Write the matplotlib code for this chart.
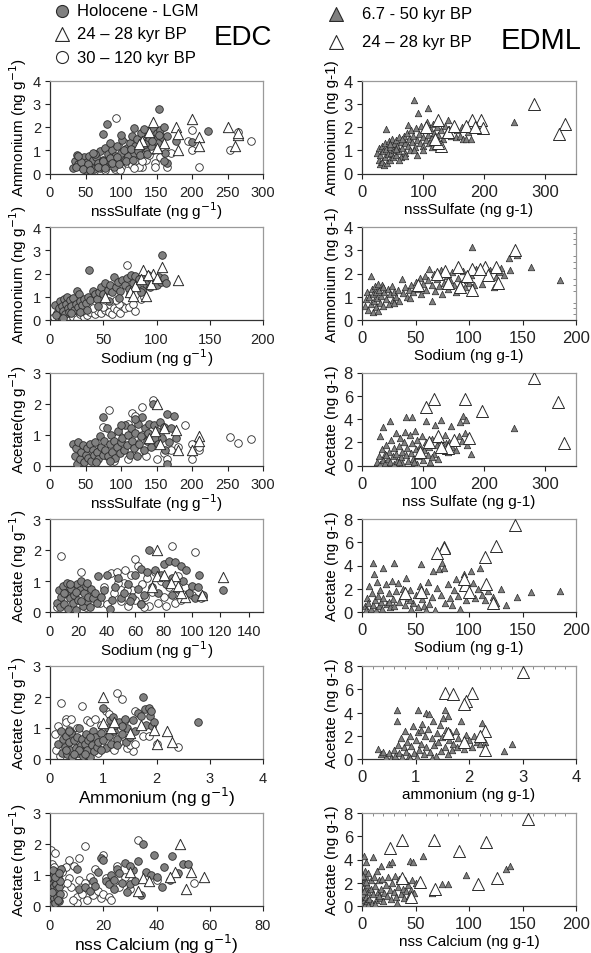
import numpy as np
import matplotlib
matplotlib.use("Agg")
import matplotlib.pyplot as plt
from matplotlib.ticker import MultipleLocator, AutoMinorLocator

plt.rcParams['font.family'] = ['Liberation Sans', 'DejaVu Sans']

# ---------------- EDC data (x, y) ----------------
edc1_hol = [(32,0.25),(35,0.55),(38,0.8),(40,0.4),(42,0.65),(45,0.3),(48,0.7),(50,0.15),(52,0.5),(55,0.75),(58,0.35),(60,0.6),(62,0.2),(65,0.7),(68,0.45),(70,0.95),(72,0.3),(75,0.6),(78,1.1),(80,0.4),(82,0.85),(85,0.55),(88,1.0),(90,0.3),(92,0.75),(95,1.2),(98,0.5),(100,0.9),(102,1.45),(105,0.6),(108,1.1),(110,0.75),(112,1.3),(115,1.6),(118,0.9),(120,1.2),(122,1.5),(125,1.0),(128,1.75),(130,1.35),(132,1.9),(135,1.1),(138,1.6),(140,1.45),(142,1.2),(145,1.95),(148,1.5),(150,1.75),(152,1.3),(155,1.85),(158,1.55),(160,2.0),(162,0.9),(165,1.6),(36,0.3),(44,0.5),(54,0.4),(64,0.85),(74,0.55),(84,0.65),(94,0.7),(104,1.0),(114,1.05),(124,0.95),(134,1.25),(144,1.4),(154,1.65),(47,0.2),(57,0.15),(67,0.3),(77,0.25),(87,0.45),(97,0.4),(107,0.55),(117,0.6),(127,0.8),(137,0.85),(75,1.7),(80,2.12),(153,2.78),(222,1.82),(200,1.35),(178,1.4),(165,0.45),(160,0.55),(40,0.75),(60,0.9),(85,1.3),(100,1.65),(118,1.95)]
edc1_old = [(93,2.38),(200,1.85),(265,1.8),(283,1.4),(253,1.0),(200,1.0),(210,0.3),(148,0.45),(148,0.3),(165,0.3),(130,0.3),(195,1.4),(55,0.2),(62,0.1),(70,0.25),(78,0.15),(85,0.35),(92,0.2),(100,0.3),(108,0.45),(115,0.35),(120,0.55),(125,0.3),(135,0.6),(140,0.8),(110,0.7),(105,1.3),(90,0.5),(75,0.5),(65,0.45),(160,1.1),(155,0.7),(170,0.9),(145,1.0),(130,0.55),(98,0.15),(118,0.25)]
edc1_tri = [(145,2.2),(200,2.35),(177,2.0),(250,2.0),(265,1.65),(210,1.55),(180,1.7),(140,1.8),(160,1.3),(180,1.0),(210,1.2),(260,1.2),(150,1.1),(130,1.4),(125,1.25),(265,1.75)]

edc2_hol = [(5,0.65),(7,0.3),(8,0.5),(9,0.8),(10,0.15),(11,0.6),(12,0.4),(13,0.9),(14,0.25),(15,0.7),(16,1.0),(17,0.5),(18,0.35),(19,0.85),(20,0.6),(22,0.95),(23,0.45),(24,0.7),(25,1.25),(26,0.55),(27,1.1),(28,0.8),(30,0.65),(32,0.9),(34,0.75),(36,1.0),(37,2.15),(38,0.85),(40,1.25),(42,1.1),(44,0.9),(46,1.2),(48,1.4),(50,1.1),(52,1.6),(54,1.3),(56,1.5),(58,1.2),(60,1.85),(62,1.4),(64,1.65),(66,1.25),(68,1.7),(70,1.5),(72,1.8),(74,1.35),(76,1.95),(78,1.6),(80,1.9),(82,1.45),(84,1.75),(86,1.3),(88,1.85),(90,1.55),(92,1.95),(94,1.4),(96,1.7),(98,1.6),(100,1.5),(102,1.85),(104,1.65),(105,2.78),(107,1.8),(109,1.6),(6,0.2),(12,0.1),(20,0.3),(28,0.35),(35,0.45),(45,0.6),(55,0.8),(65,0.95),(75,1.1),(85,1.2)]
edc2_old = [(72,2.38),(4,0.15),(8,0.05),(12,0.2),(15,0.1),(18,0.3),(22,0.15),(25,0.05),(28,0.25),(32,0.15),(35,0.2),(38,0.35),(42,0.25),(45,0.4),(48,0.3),(52,0.45),(55,0.35),(58,0.25),(60,0.5),(63,0.45),(66,0.3),(68,0.6),(70,0.5),(74,0.55),(80,0.4),(78,0.7),(65,0.7),(50,0.55),(40,0.5),(30,0.4),(85,0.9),(88,1.0),(62,0.85)]
edc2_tri = [(87,2.15),(105,2.3),(97,2.0),(120,1.7),(80,1.45),(90,1.05),(75,1.2),(52,1.0),(95,1.55),(100,1.8),(85,1.75),(92,1.95),(78,1.05)]

edc3_hol = [(32,0.7),(35,0.3),(37,0.55),(38,0.05),(40,0.75),(42,0.2),(44,0.45),(46,0.65),(48,0.1),(50,0.35),(52,0.55),(54,0.25),(56,0.7),(58,0.15),(60,0.5),(62,0.35),(64,0.75),(66,0.45),(68,0.2),(70,0.95),(72,0.6),(74,0.35),(75,1.55),(76,0.8),(78,0.5),(80,1.2),(82,0.3),(84,0.7),(86,1.0),(88,0.45),(90,0.8),(92,0.25),(94,0.6),(96,1.1),(98,0.4),(100,0.75),(102,0.9),(104,0.5),(106,1.3),(108,0.65),(110,1.0),(112,0.35),(114,1.2),(116,0.8),(118,0.55),(120,1.05),(122,0.3),(124,1.35),(126,0.7),(128,0.95),(130,1.55),(132,0.5),(134,1.2),(136,0.8),(138,1.05),(140,1.35),(142,0.6),(145,2.0),(146,1.3),(148,0.9),(150,1.1),(152,0.7),(155,1.4),(158,0.9),(160,1.25),(162,0.5),(165,1.65),(165,0.05),(168,0.75),(170,1.2),(175,1.6),(178,0.9),(120,1.5),(100,1.3),(85,0.15),(65,0.1)]
edc3_old = [(145,2.1),(83,1.8),(130,1.9),(115,1.7),(120,1.6),(190,1.3),(253,0.92),(265,0.73),(283,0.87),(200,0.7),(210,0.5),(200,0.2),(150,0.2),(110,0.2),(90,0.15),(100,0.6),(105,1.1),(110,1.35),(125,0.45),(135,0.3),(140,0.85),(155,1.0),(160,0.4),(170,0.5),(180,0.6),(95,0.9),(80,0.3),(70,0.4),(60,0.6),(75,1.25),(130,1.0),(118,0.9),(210,0.6),(165,0.2)]
edc3_tri = [(150,2.0),(178,1.15),(210,0.95),(210,0.8),(200,0.5),(180,0.5),(148,1.1),(140,0.9),(155,0.7),(160,1.2)]

edc4_hol = [(5,0.3),(6,0.7),(7,0.15),(8,0.5),(9,0.85),(10,0.25),(11,0.6),(12,0.95),(13,0.1),(14,0.45),(15,0.75),(16,0.3),(17,0.55),(18,0.05),(19,0.9),(20,0.4),(21,0.7),(22,1.0),(23,0.2),(24,0.6),(25,0.85),(26,0.35),(27,0.5),(28,0.15),(29,0.75),(30,0.45),(32,0.6),(33,0.3),(34,1.15),(36,0.5),(38,0.7),(40,1.2),(42,0.1),(44,0.4),(46,0.8),(48,1.1),(50,0.45),(52,0.6),(55,0.9),(58,0.5),(60,1.2),(62,0.75),(64,1.4),(66,0.55),(68,1.3),(70,2.0),(72,0.8),(74,1.35),(76,0.6),(78,1.2),(80,1.55),(82,0.9),(84,1.65),(86,1.1),(88,1.6),(90,0.75),(92,1.5),(94,1.0),(96,1.35),(98,0.6),(100,0.85),(102,0.45),(104,0.8),(105,1.2),(108,0.55),(122,0.72),(86,0.55),(64,0.25),(56,0.35),(10,0.6),(14,0.9),(18,0.65),(22,0.35),(26,0.95)]
edc4_old = [(8,1.8),(86,2.12),(102,1.92),(60,1.7),(22,1.28),(35,0.3),(38,0.8),(40,0.25),(43,1.25),(45,0.6),(47,1.3),(50,0.35),(52,0.95),(53,1.35),(55,0.2),(57,1.2),(58,0.7),(60,0.4),(62,1.5),(64,0.25),(65,0.9),(67,0.5),(68,1.1),(70,0.2),(72,0.65),(74,1.3),(76,0.3),(78,1.0),(80,0.5),(82,0.2),(84,0.8),(88,0.3),(90,1.15),(92,0.4),(95,0.8),(100,0.55),(106,0.45),(108,0.5),(30,0.55),(25,0.15),(5,0.15),(48,0.95),(54,0.7),(66,0.15)]
edc4_tri = [(75,2.0),(122,1.12),(88,1.15),(75,1.15),(85,0.95),(95,0.5),(107,0.55),(92,0.6),(72,0.8),(90,0.85),(80,1.2)]

edc5_hol = [(0.15,0.5),(0.2,0.9),(0.22,0.2),(0.25,0.65),(0.28,0.4),(0.3,0.75),(0.32,0.15),(0.35,0.55),(0.38,0.3),(0.4,0.85),(0.42,0.05),(0.45,0.6),(0.48,0.35),(0.5,0.7),(0.52,0.2),(0.55,1.0),(0.58,0.45),(0.6,0.65),(0.62,0.1),(0.65,0.5),(0.68,0.8),(0.7,0.3),(0.72,0.6),(0.75,0.05),(0.78,0.45),(0.8,0.9),(0.82,0.25),(0.85,0.7),(0.88,0.4),(0.9,0.55),(0.95,0.85),(1.0,0.6),(1.0,1.65),(1.05,0.35),(1.08,1.0),(1.1,0.75),(1.12,1.25),(1.15,0.5),(1.18,1.35),(1.2,0.9),(1.22,1.1),(1.25,0.65),(1.3,1.2),(1.35,0.8),(1.4,1.3),(1.42,0.55),(1.45,1.0),(1.5,0.7),(1.55,1.25),(1.6,0.9),(1.65,1.5),(1.7,1.4),(1.75,2.0),(1.78,1.6),(1.8,1.1),(1.85,1.65),(1.88,1.4),(1.9,1.55),(1.92,1.05),(1.95,1.2),(2.78,1.2),(0.35,0.9),(0.55,0.3),(0.65,0.15),(0.45,0.15),(0.75,0.7),(0.3,0.3),(1.25,0.45),(1.35,1.05),(0.95,0.3)]
edc5_old = [(0.2,1.8),(1.25,2.12),(1.35,1.92),(0.6,1.7),(0.3,1.3),(0.3,1.2),(1.6,1.55),(2.4,0.4),(1.55,0.25),(0.1,0.8),(0.12,0.3),(0.15,1.05),(0.18,0.1),(0.25,0.55),(0.35,0.95),(0.4,1.3),(0.45,0.4),(0.5,1.0),(0.55,0.85),(0.7,1.25),(0.75,1.2),(0.8,0.5),(0.85,1.3),(0.9,0.2),(0.95,0.45),(1.0,0.9),(1.05,1.55),(1.1,1.45),(1.15,0.4),(1.2,0.3),(1.3,0.55),(1.4,1.25),(1.45,0.35),(1.5,0.45),(1.6,0.5),(1.75,0.75),(1.85,0.75),(2.0,0.5),(0.6,0.2),(0.95,1.1)]
edc5_tri = [(1.0,2.0),(2.2,0.9),(2.3,0.55),(2.0,0.5),(1.7,1.1),(1.95,0.95),(1.0,1.15),(1.5,0.85),(1.15,1.0),(1.2,1.2)]

edc6_hol = [(0.3,0.2),(0.5,0.6),(0.6,0.9),(0.8,0.35),(1.0,0.75),(1.1,0.05),(1.2,0.5),(1.4,1.0),(1.5,0.25),(1.6,0.65),(1.8,0.85),(2.0,0.1),(2.1,0.45),(2.3,0.7),(2.5,1.1),(2.6,0.3),(2.8,0.55),(3.0,0.9),(3.2,0.15),(3.4,0.6),(3.6,0.8),(3.8,0.4),(4.0,1.2),(1.3,1.15),(0.7,0.45),(1.9,0.95),(2.9,0.2),(3.3,1.05),(10,1.2),(11,0.55),(13,0.6),(15,0.5),(16,0.8),(17,0.65),(18,1.1),(19,1.55),(20,1.5),(21,0.8),(22,0.7),(23,1.0),(24,0.85),(25,1.2),(26,1.05),(27,0.75),(28,1.4),(29,0.45),(30,0.7),(31,1.15),(32,0.8),(33,1.45),(34,0.37),(35,2.0),(36,1.1),(38,1.0),(39,1.65),(40,0.95),(42,0.6),(43,1.25),(45,0.85),(46,1.62),(48,1.05),(50,1.35),(52,1.35),(24,0.55),(30,1.3)]
edc6_old = [(0.5,1.8),(2,1.7),(13,1.92),(33,2.12),(20,1.65),(7,1.5),(11,1.55),(54,0.75),(40,0.85),(5,1.2),(0.8,1.35),(1.5,1.25),(3,1.0),(4,0.7),(5,0.4),(6,1.25),(7,0.9),(8,0.6),(9,1.3),(10,0.3),(10,0.1),(11,0.85),(12,0.4),(13,0.75),(14,0.2),(15,0.95),(16,0.35),(17,1.2),(18,0.5),(19,0.25),(20,0.4),(21,0.9),(22,0.3),(23,0.18),(25,1.3),(26,0.6),(28,0.95),(30,0.55),(4.5,1.1),(6.5,0.75),(8.5,0.2)]
edc6_tri = [(49,2.0),(58,0.95),(53,1.1),(47,1.1),(45,0.95),(35,0.9),(37,0.8),(33,0.5),(51,0.55),(30,1.1)]

# ---------------- EDML data (x, y) ----------------
edml1_fill = [(25,0.9),(27,0.6),(28,1.1),(30,0.4),(30,0.8),(32,1.2),(33,0.5),(35,0.95),(36,0.35),(37,1.3),(38,0.7),(40,1.9),(40,1.05),(41,0.45),(42,0.85),(44,1.4),(45,0.6),(46,1.15),(48,0.9),(49,1.5),(50,0.7),(52,1.25),(53,1.0),(55,1.45),(56,0.8),(58,1.2),(60,1.55),(61,0.95),(63,1.35),(64,0.7),(66,1.1),(68,1.6),(70,1.3),(71,0.9),(73,1.75),(75,2.1),(75,1.2),(77,1.5),(79,1.0),(80,1.85),(82,1.35),(84,1.6),(85,3.15),(86,1.15),(88,1.95),(90,1.45),(90,0.8),(92,2.6),(93,1.7),(95,1.3),(97,2.05),(99,1.55),(100,1.2),(102,1.85),(104,1.45),(106,2.2),(108,2.8),(108,1.65),(110,1.3),(112,1.95),(114,1.55),(116,2.15),(118,1.75),(120,1.4),(122,2.0),(125,1.65),(128,2.2),(130,1.85),(132,1.5),(135,2.05),(138,1.75),(140,2.3),(143,1.9),(146,1.6),(150,2.1),(153,1.55),(156,1.85),(160,1.6),(163,2.0),(166,1.5),(170,1.5),(173,1.8),(178,1.5),(182,1.95),(186,2.1),(248,2.2),(60,0.6),(70,0.75),(85,1.0),(100,1.0),(115,1.15),(55,1.05),(65,1.5),(45,1.25)]
edml1_open = [(282,3.0),(332,2.15),(322,1.7),(195,2.3),(180,2.3),(125,2.3),(198,1.95),(140,1.8),(105,2.0),(130,1.2),(125,1.3),(170,2.05),(150,2.05),(185,2.0),(120,1.5)]

edml2_fill = [(3,0.6),(4,0.9),(5,1.2),(6,0.45),(7,1.0),(8,1.9),(8,0.7),(9,1.35),(10,0.35),(10,1.1),(11,0.8),(12,1.45),(13,0.55),(13,1.2),(14,0.95),(15,0.4),(16,1.3),(17,0.75),(18,1.05),(19,1.5),(20,0.6),(21,1.2),(22,0.9),(24,1.35),(25,0.7),(26,1.1),(28,1.45),(29,0.85),(30,1.2),(32,1.0),(34,1.3),(35,0.8),(37,1.75),(38,1.15),(40,1.4),(42,1.0),(44,1.3),(46,1.5),(48,1.2),(50,1.65),(52,1.35),(54,1.8),(55,1.1),(57,1.55),(59,1.9),(60,1.3),(62,1.7),(63,2.2),(65,0.8),(65,1.5),(67,2.0),(68,1.25),(70,1.75),(72,1.45),(74,2.15),(75,1.1),(77,1.6),(79,1.9),(80,1.35),(82,1.7),(84,2.05),(86,1.5),(88,1.2),(90,1.8),(92,1.55),(94,2.1),(96,1.4),(98,1.7),(100,1.6),(102,1.95),(103,3.15),(105,1.5),(107,2.2),(110,2.15),(112,1.55),(115,2.2),(118,2.0),(120,2.15),(123,1.4),(125,1.85),(128,2.05),(130,2.25),(133,1.95),(137,2.65),(138,2.15),(145,2.8),(158,2.3),(185,1.7),(30,0.75),(45,0.95),(20,1.4),(15,1.55)]
edml2_open = [(143,3.0),(125,2.3),(115,2.3),(90,2.3),(103,2.2),(78,2.1),(70,2.0),(118,1.95),(98,1.9),(127,1.6),(103,1.3),(52,1.5),(80,1.6),(92,1.4),(110,2.2)]

edml3_fill = [(25,0.3),(28,0.8),(30,2.5),(30,0.1),(32,1.4),(35,3.3),(35,0.5),(37,1.0),(38,0.2),(40,1.8),(42,0.6),(44,1.2),(45,3.8),(46,0.3),(48,2.2),(50,0.8),(52,1.5),(53,0.1),(55,2.8),(56,1.0),(58,0.4),(60,1.7),(62,2.4),(63,0.7),(65,1.2),(66,0.2),(68,2.0),(70,2.9),(72,4.2),(72,0.9),(74,1.5),(76,0.4),(78,2.6),(80,1.1),(82,4.2),(82,1.9),(84,0.6),(86,3.0),(88,1.4),(90,2.2),(90,0.1),(92,0.8),(95,1.7),(98,2.5),(100,0.5),(102,1.3),(105,3.8),(105,2.0),(108,0.9),(110,1.6),(112,0.3),(115,2.3),(118,1.0),(120,3.5),(122,1.8),(125,0.6),(128,2.2),(130,3.9),(132,1.4),(135,2.6),(138,1.9),(140,1.2),(143,2.0),(145,3.4),(148,1.6),(150,2.2),(153,1.3),(158,2.5),(160,3.7),(163,2.1),(165,4.3),(168,2.8),(170,3.9),(172,1.8),(178,1.0),(248,3.2),(40,0.9),(60,0.3),(85,0.3),(115,0.7)]
edml3_open = [(282,7.5),(320,5.5),(330,1.9),(118,5.7),(105,5.0),(168,5.7),(196,4.7),(175,2.4),(125,2.5),(150,2.2),(140,1.5),(110,2.0),(95,1.2),(130,1.6)]

edml4_fill = [(3,0.5),(4,0.2),(5,1.2),(6,0.8),(7,2.2),(8,0.3),(9,1.6),(10,4.2),(10,0.6),(11,3.3),(12,1.0),(13,0.2),(14,2.6),(15,1.4),(16,0.5),(17,1.9),(18,0.9),(19,0.3),(20,3.8),(20,1.2),(22,2.4),(23,0.7),(25,1.6),(26,0.4),(28,2.7),(29,1.1),(30,4.2),(30,0.5),(32,1.8),(34,2.5),(35,0.9),(37,1.4),(38,2.0),(40,0.6),(41,2.9),(43,1.2),(45,1.9),(46,0.3),(48,0.8),(50,1.5),(52,0.4),(54,2.2),(55,4.1),(56,1.1),(58,0.5),(60,1.8),(62,2.6),(63,0.7),(65,1.3),(66,3.5),(68,0.2),(70,2.1),(72,3.7),(74,1.5),(75,4.2),(77,3.8),(78,0.8),(80,2.4),(82,1.2),(84,0.6),(86,1.9),(88,2.8),(90,1.4),(92,0.3),(94,2.2),(95,3.3),(97,1.0),(100,1.7),(102,3.5),(104,2.5),(106,1.2),(108,2.0),(110,3.8),(112,1.5),(115,1.0),(118,1.8),(122,1.3),(125,0.8),(130,2.0),(135,0.6),(145,1.3),(158,1.7),(185,1.8),(60,0.15),(45,1.0),(25,0.9)]
edml4_open = [(143,7.5),(125,5.7),(77,5.6),(77,5.5),(70,5.1),(115,4.7),(116,2.4),(96,2.3),(100,1.7),(122,0.8),(55,1.7),(40,1.6),(95,2.8)]

edml5_fill = [(0.3,0.9),(0.35,0.4),(0.4,0.6),(0.45,0.2),(0.5,0.5),(0.55,0.1),(0.6,0.8),(0.62,0.3),(0.65,4.2),(0.65,3.3),(0.68,1.2),(0.7,0.5),(0.72,1.8),(0.75,0.2),(0.78,1.0),(0.8,2.4),(0.82,0.6),(0.85,1.5),(0.88,0.3),(0.9,2.0),(0.92,1.1),(0.95,2.8),(0.97,0.5),(1.0,1.6),(1.02,0.2),(1.05,4.2),(1.05,2.3),(1.07,0.8),(1.1,1.3),(1.12,3.0),(1.15,0.4),(1.18,2.0),(1.2,4.0),(1.2,1.0),(1.23,2.6),(1.25,3.9),(1.27,0.6),(1.3,1.8),(1.32,3.3),(1.35,1.2),(1.38,0.3),(1.4,2.2),(1.42,1.5),(1.45,2.9),(1.47,0.7),(1.5,1.9),(1.52,3.5),(1.55,4.2),(1.55,1.0),(1.57,2.5),(1.6,3.7),(1.6,0.4),(1.63,1.6),(1.65,2.3),(1.68,0.8),(1.7,1.3),(1.75,2.4),(1.78,1.0),(1.8,1.8),(1.85,3.3),(1.88,1.4),(1.9,0.9),(1.95,2.1),(2.0,1.6),(2.05,1.0),(2.1,2.0),(2.15,1.5),(2.2,1.3),(2.25,3.1),(2.3,1.5),(2.65,0.65),(2.8,1.3),(0.9,0.1),(1.3,0.1),(1.1,2.5)]
edml5_open = [(3.0,7.5),(1.55,5.7),(1.7,5.6),(2.05,5.7),(1.95,5.0),(1.9,4.7),(2.3,2.4),(2.2,2.0),(2.3,0.8),(1.6,2.2),(1.9,1.5)]

edml6_fill = [(0.5,0.3),(1,1.0),(1.5,2.0),(2,0.5),(2,4.3),(2.5,3.0),(3,1.5),(3,0.2),(3.5,2.5),(4,0.8),(4,3.8),(5,1.8),(5,0.4),(6,2.8),(6,1.2),(7,0.6),(8,2.2),(8,1.5),(9,0.3),(10,4.2),(10,1.0),(11,2.5),(12,1.7),(13,0.5),(14,3.0),(15,1.2),(16,2.2),(17,0.7),(18,3.4),(18,1.5),(19,2.3),(20,0.4),(21,1.1),(22,1.8),(23,0.9),(24,2.5),(25,3.6),(26,1.4),(27,0.6),(28,3.8),(28,2.0),(30,1.2),(31,2.6),(32,0.8),(33,0.3),(34,1.6),(35,2.3),(36,1.0),(38,1.5),(39,0.7),(40,2.2),(41,1.3),(43,1.8),(44,0.9),(45,3.9),(46,1.4),(47,2.2),(48,3.8),(49,1.1),(50,2.0),(57,4.3),(65,1.1),(75,1.9),(80,1.9),(97,2.7),(135,3.2),(138,3.4),(1,2.6),(2,1.3),(4,2.1),(6,0.1),(12,0.2),(16,0.9)]
edml6_open = [(155,7.5),(37,5.7),(67,5.7),(116,5.5),(26,5.0),(91,4.7),(37,2.4),(54,2.1),(126,2.4),(108,1.9),(68,1.5),(46,0.8)]

# labels / axis settings
sup = r'$^{-1}$'
edc_xlabels = ['nssSulfate (ng g' + sup + ')', 'Sodium (ng g' + sup + ')', 'nssSulfate (ng g' + sup + ')',
               'Sodium (ng g' + sup + ')', 'Ammonium (ng g' + sup + ')', 'nss Calcium (ng g' + sup + ')']
edc_ylabels = ['Ammonium (ng g' + sup + ')', 'Ammonium (ng g' + sup + ')', 'Acetate(ng g' + sup + ')',
               'Acetate (ng g' + sup + ')', 'Acetate (ng g' + sup + ')', 'Acetate (ng g' + sup + ')']
edml_xlabels = ['nssSulfate (ng g-1)', 'Sodium (ng g-1)', 'nss Sulfate (ng g-1)',
                'Sodium (ng g-1)', 'ammonium (ng g-1)', 'nss Calcium (ng g-1)']
edml_ylabels = ['Ammonium (ng g-1)', 'Ammonium (ng g-1)', 'Acetate (ng g-1)',
                'Acetate (ng g-1)', 'Acetate (ng g-1)', 'Acetate (ng g-1)']
edc_xlim = [(0, 300, 50), (0, 200, 50), (0, 300, 50), (0, 150, 20), (0, 4, 1), (0, 80, 20)]
edc_xtick_max = [300, 200, 300, 140, 4, 80]
edc_ylim = [(0, 4, 1), (0, 4, 1), (0, 3, 1), (0, 3, 1), (0, 3, 1), (0, 3, 1)]
edml_xlim = [(0, 350, 100), (0, 200, 50), (0, 350, 100), (0, 200, 50), (0, 4, 1), (0, 200, 50)]
edml_xtick_max = [300, 200, 300, 200, 4, 200]
edml_ylim = [(0, 4, 1), (0, 4, 1), (0, 8, 2), (0, 8, 2), (0, 8, 2), (0, 8, 2)]

edc_sets = [(edc1_hol, edc1_old, edc1_tri), (edc2_hol, edc2_old, edc2_tri), (edc3_hol, edc3_old, edc3_tri),
            (edc4_hol, edc4_old, edc4_tri), (edc5_hol, edc5_old, edc5_tri), (edc6_hol, edc6_old, edc6_tri)]
edml_sets = [(edml1_fill, edml1_open), (edml2_fill, edml2_open), (edml3_fill, edml3_open),
             (edml4_fill, edml4_open), (edml5_fill, edml5_open), (edml6_fill, edml6_open)]

W, H = 591, 954
fig = plt.figure(figsize=(W / 100, H / 100), dpi=100)

GRAY = '#808080'
EDGE = '#2a2a2a'
row_tops = [81.5, 228, 373.5, 520, 667, 814]
ph = 93


def style(ax, xl, xmax_tick, yl, fs):
    ax.set_xlim(xl[0], xl[1])
    ax.set_ylim(yl[0], yl[1])
    ax.set_xticks(np.arange(xl[0], xmax_tick + 1e-9, xl[2]))
    ax.set_yticks(np.arange(yl[0], yl[1] + 1e-9, yl[2]))
    for s in ['top', 'right']:
        ax.spines[s].set_color('#9a9a9a')
    for s in ['left', 'bottom']:
        ax.spines[s].set_color('#333333')
    for s in ax.spines.values():
        s.set_linewidth(0.9)
    ax.tick_params(direction='out', length=3.5, width=0.8, labelsize=fs, colors='#222222')
    ax.tick_params(axis='x', pad=5)
    ax.tick_params(axis='y', pad=3)


def xy(pts):
    a = np.array(pts, dtype=float)
    return a[:, 0], a[:, 1]


for i in range(6):
    top = row_tops[i]
    # EDC
    ax = fig.add_axes([50 / W, 1 - (top + ph) / H, 213 / W, ph / H])
    hol, old, tri = edc_sets[i]
    x, y = xy(old)
    ax.scatter(x, y, s=30, facecolor='white', edgecolor=EDGE, linewidth=0.6, zorder=2)
    x, y = xy(hol)
    ax.scatter(x, y, s=30, facecolor=GRAY, edgecolor=EDGE, linewidth=0.6, zorder=3)
    x, y = xy(tri)
    ax.scatter(x, y, s=55, marker='^', facecolor='white', edgecolor=EDGE, linewidth=0.7, zorder=4)
    style(ax, edc_xlim[i], edc_xtick_max[i], edc_ylim[i], 10.5)
    xfs = 12.5 if i >= 4 else 11
    ax.set_xlabel(edc_xlabels[i], fontsize=xfs, labelpad=0)
    ax.set_ylabel(edc_ylabels[i], fontsize=11, labelpad=3)

    # EDML
    ax = fig.add_axes([362 / W, 1 - (top + ph) / H, 214 / W, ph / H])
    fill, opn = edml_sets[i]
    x, y = xy(fill)
    ax.scatter(x, y, s=22, marker='^', facecolor=GRAY, edgecolor=EDGE, linewidth=0.5, zorder=3)
    x, y = xy(opn)
    ax.scatter(x, y, s=75, marker='^', facecolor='white', edgecolor=EDGE, linewidth=0.7, zorder=4)
    style(ax, edml_xlim[i], edml_xtick_max[i], edml_ylim[i], 12)
    ax.tick_params(axis='x', pad=4)
    ax.set_xlabel(edml_xlabels[i], fontsize=11, labelpad=2)
    ax.set_ylabel(edml_ylabels[i], fontsize=11, labelpad=3)
    if i == 1:
        ax.yaxis.set_minor_locator(AutoMinorLocator(4))
        ax.tick_params(axis='y', which='minor', left=False, right=True, direction='in', length=2, color='#777777')
    if i in (4, 5):
        ax.xaxis.set_minor_locator(AutoMinorLocator(5))
        ax.tick_params(axis='x', which='minor', bottom=False, top=True, direction='in', length=2, color='#777777')

# ---------------- Legends and titles ----------------
lax = fig.add_axes([0, 0, 1, 1], facecolor='none')
lax.set_xlim(0, W)
lax.set_ylim(H, 0)
lax.axis('off')
lax.scatter([62], [12], s=75, facecolor=GRAY, edgecolor=EDGE, linewidth=0.8)
lax.scatter([62], [35], s=100, marker='^', facecolor='white', edgecolor=EDGE, linewidth=0.8)
lax.scatter([62], [58], s=75, facecolor='white', edgecolor=EDGE, linewidth=0.8)
lax.text(77, 12, 'Holocene - LGM', fontsize=12, va='center', ha='left')
lax.text(77, 35, '24 – 28 kyr BP', fontsize=12, va='center', ha='left')
lax.text(77, 58, '30 – 120 kyr BP', fontsize=12, va='center', ha='left')
lax.text(243, 38, 'EDC', fontsize=20, va='center', ha='center')

lax.scatter([336], [15], s=100, marker='^', facecolor=GRAY, edgecolor=EDGE, linewidth=0.8)
lax.scatter([336], [43], s=100, marker='^', facecolor='white', edgecolor=EDGE, linewidth=0.8)
lax.text(362, 15, '6.7 - 50 kyr BP', fontsize=12, va='center', ha='left')
lax.text(362, 43, '24 – 28 kyr BP', fontsize=12, va='center', ha='left')
lax.text(541, 41, 'EDML', fontsize=21, va='center', ha='center')

fig.savefig('out.png', dpi=100)
